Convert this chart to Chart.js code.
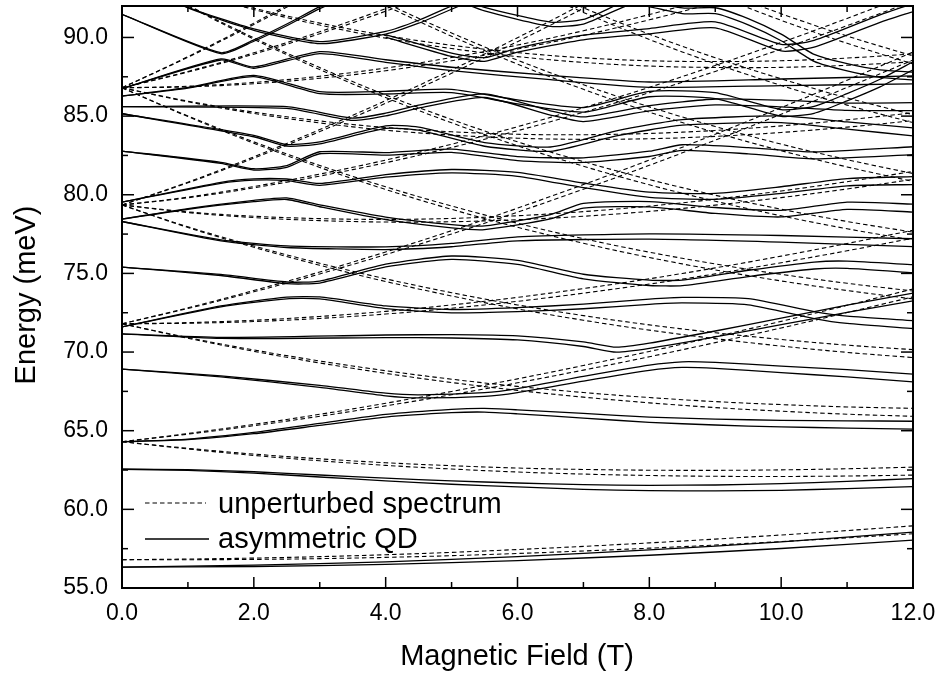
<!DOCTYPE html>
<html>
<head>
<meta charset="utf-8">
<title>Energy spectrum vs magnetic field</title>
<script src="https://cdn.jsdelivr.net/npm/chart.js@4.4.1/dist/chart.umd.min.js"></script>
<style>
  html, body { margin: 0; padding: 0; background: #fff; }
  #wrap { width: 938px; height: 677px; }
</style>
</head>
<body>
<div id="wrap"><canvas id="spectrumChart" width="938" height="677"></canvas></div>
<script>
// Magnetic field grid (T) for the unperturbed levels
const field = [0, 1, 2, 3, 4, 5, 6, 7, 8, 9, 10, 11, 12];
// Half of the spin splitting between paired lines, every 0.5 T (meV)
const spinHalf = [0, 0.011, 0.021, 0.032, 0.042, 0.053, 0.063, 0.074, 0.084, 0.095, 0.105, 0.116, 0.126,
                  0.137, 0.147, 0.158, 0.168, 0.179, 0.189, 0.2, 0.21, 0.221, 0.231, 0.242, 0.252];

// Unperturbed spectrum (dashed), one orbital level per array, at each field value
const d01 = [56.80, 56.82, 56.86, 56.93, 57.03, 57.16, 57.32, 57.50, 57.70, 57.92, 58.16, 58.42, 58.70];
const d02 = [64.30, 63.86, 63.47, 63.15, 62.88, 62.67, 62.50, 62.39, 62.32, 62.29, 62.30, 62.35, 62.43];
const d03 = [64.30, 64.80, 65.36, 65.98, 66.66, 67.39, 68.17, 69.00, 69.87, 70.79, 71.74, 72.74, 73.76];
const d04 = [71.80, 71.85, 71.98, 72.20, 72.50, 72.89, 73.35, 73.89, 74.49, 75.16, 75.89, 76.67, 77.49];
const d05 = [71.80, 70.90, 70.09, 69.37, 68.73, 68.17, 67.69, 67.28, 66.94, 66.66, 66.45, 66.28, 66.17];
const d06 = [71.80, 72.79, 73.87, 75.03, 76.28, 77.61, 79.02, 80.50, 82.04, 83.66, 85.33, 87.05, 88.82];
const d07 = [79.35, 77.94, 76.70, 75.58, 74.57, 73.67, 72.87, 72.17, 71.56, 71.04, 70.59, 70.21, 69.90];
const d08 = [79.35, 78.89, 78.59, 78.42, 78.35, 78.39, 78.54, 78.78, 79.11, 79.53, 80.03, 80.60, 81.23];
const d09 = [79.35, 79.83, 80.48, 81.25, 82.12, 83.11, 84.20, 85.39, 86.66, 88.03, 89.47, 90.98, 92.56];
const d10 = [79.35, 80.78, 82.37, 84.08, 85.90, 87.83, 89.86, 92.00, 94.22, 96.52, 98.91, 101.36, 103.88];
const d11 = [86.80, 84.99, 83.32, 81.80, 80.42, 79.18, 78.06, 77.06, 76.18, 75.41, 74.73, 74.14, 73.63];
const d12 = [86.80, 85.93, 85.21, 84.63, 84.19, 83.90, 83.72, 83.67, 83.73, 83.90, 84.17, 84.53, 84.96];
const d13 = [86.80, 86.88, 87.10, 87.47, 87.97, 88.62, 89.39, 90.28, 91.29, 92.40, 93.61, 94.91, 96.29];
const d14 = [86.80, 87.82, 88.98, 90.30, 91.75, 93.34, 95.05, 96.89, 98.84, 100.90, 103.05, 105.29, 107.62];
const d15 = [86.80, 88.76, 90.87, 93.13, 95.52, 98.06, 100.71, 103.50, 106.39, 109.39, 112.49, 115.68, 118.95];
const d16 = [94.30, 92.03, 89.93, 88.02, 86.26, 84.68, 83.24, 81.96, 80.80, 79.78, 78.87, 78.07, 77.37];
const d17 = [94.30, 92.97, 91.82, 90.85, 90.04, 89.40, 88.91, 88.56, 88.35, 88.28, 88.31, 88.46, 88.70];
const d18 = [101.80, 99.07, 96.55, 94.24, 92.11, 90.18, 88.43, 86.85, 85.42, 84.15, 83.01, 82.00, 81.10];
const d19 = [109.30, 106.12, 103.16, 100.45, 97.96, 95.68, 93.61, 91.74, 90.04, 88.52, 87.16, 85.93, 84.84];
const d20 = [116.80, 113.16, 109.78, 106.67, 103.80, 101.19, 98.80, 96.63, 94.67, 92.90, 91.30, 89.86, 88.57];

// Asymmetric QD (solid), [field T, energy meV]
const s01 = [[0, 56.33], [2, 56.41], [4, 56.58], [6, 56.87], [8, 57.25], [10, 57.72], [12, 58.3]];
const s02 = [[0, 62.55], [1, 62.5], [2, 62.35], [3, 62.12], [4, 61.9], [5, 61.7], [6, 61.55], [7, 61.42], [8, 61.36], [9, 61.36], [10, 61.42], [11, 61.55], [12, 61.7]];
const s03 = [[0, 64.3], [1, 64.45], [2, 64.85], [3, 65.4], [4, 65.95], [5, 66.25], [5.5, 66.3], [6, 66.2], [7, 65.95], [8, 65.7], [9, 65.55], [10, 65.45], [11, 65.4], [12, 65.35]];
const s04 = [[0, 68.92], [1.5, 68.45], [3, 67.82], [4, 67.3], [4.5, 67.18], [5.5, 67.3], [6, 67.55], [7, 68.3], [8, 69.0], [8.5, 69.2], [9, 69.15], [10, 68.9], [11, 68.65], [12, 68.35]];
const s05 = [[0, 71.15], [1.5, 70.9], [4, 71.0], [5, 71.0], [6, 70.9], [7, 70.5], [7.5, 70.15], [8, 70.4], [9, 71.15], [10, 71.95], [11, 72.75], [12, 73.5]];
const s06 = [[0, 71.6], [1.5, 72.9], [2.5, 73.44], [3, 73.44], [4, 72.85], [5, 72.6], [6, 72.7], [7, 72.9], [8, 73.2], [8.5, 73.3], [9.5, 73.2], [10.5, 72.35], [11, 72.05], [12, 71.75]];
const s07 = [[0, 75.4], [1.5, 74.9], [2.5, 74.4], [3, 74.45], [4, 75.5], [5, 76.0], [6, 75.7], [7, 74.8], [8, 74.4], [8.5, 74.4], [9.5, 75.0], [10.5, 75.5], [11, 75.55], [12, 75.3]];
const s08 = [[0, 78.3], [1.5, 77.1], [2.5, 76.7], [4, 76.6], [5, 76.8], [6, 77.2], [8, 77.35], [10, 77.2], [12, 76.95]];
const s09 = [[0, 78.45], [1, 79.1], [2, 79.6], [2.5, 79.75], [3, 79.3], [4, 78.5], [5, 78.0], [5.5, 77.9], [6.5, 78.6], [7, 79.3], [8, 79.4], [9, 79.0], [10, 78.8], [11, 79.3], [12, 79.15]];
const s10 = [[0, 79.53], [1.5, 80.76], [2, 80.97], [2.5, 80.95], [3, 80.66], [4, 81.2], [5, 81.5], [6, 81.3], [7, 80.6], [8, 80.0], [9, 79.9], [10, 80.3], [11, 80.8], [12, 80.9]];
const s11 = [[0, 82.78], [1.5, 82.03], [2, 81.61], [2.5, 81.8], [3, 82.67], [4, 82.6], [5, 82.8], [6, 82.3], [7, 82.2], [8, 82.6], [8.5, 83.0], [9.5, 82.8], [10.5, 82.5], [12, 82.8]];
const s12 = [[0, 85.15], [2, 83.73], [2.5, 83.14], [3, 83.3], [4, 84.3], [4.5, 84.2], [5.5, 83.2], [6.5, 82.9], [7.5, 83.9], [8.5, 84.6], [10, 84.8], [11, 84.4], [12, 84.0]];
const s13 = [[0, 85.6], [2.5, 85.55], [3.5, 84.8], [4, 85.1], [4.5, 85.6], [5.5, 86.3], [6.5, 85.2], [7, 84.8], [8, 85.5], [9, 85.9], [10, 85.8], [11, 85.6], [12, 85.6]];
const s14 = [[0, 86.27], [1, 86.8], [2, 87.55], [3, 86.49], [4, 86.49], [5, 86.6], [6, 85.9], [7, 85.4], [8, 86.4], [9, 86.3], [10, 85.2], [10.5, 85.4], [11, 86.2], [11.5, 87.1], [12, 88.2]];
const s15 = [[0, 86.74], [1.5, 88.6], [2, 88.08], [3, 89.04], [4, 88.5], [5, 88.0], [6.5, 87.45], [8, 87.0], [10, 87.15], [12, 87.3]];
const s16 = [[0, 91.47], [1.5, 89.0], [2, 89.8], [2.5, 90.8], [3, 91.9], [3.5, 92.8]];
const s17 = [[0.5, 93.0], [1, 91.9], [2, 90.5], [3, 89.67], [4, 90.3], [4.5, 91.0], [5, 91.9], [5.5, 92.8]];
const s18 = [[5, 92.6], [5.5, 91.8], [6.5, 90.84], [7, 91.0], [7.5, 91.9], [8, 92.8]];
const s19 = [[4, 90.1], [5, 88.9], [5.5, 88.6], [6, 89.2], [7, 90.0], [8, 90.4], [9, 90.8], [10, 89.35], [10.5, 89.6], [11.5, 91.2], [12, 91.9]];
const s20 = [[7.5, 92.6], [8.5, 91.7], [9, 91.7], [9.5, 91.0], [10, 90.0], [10.5, 88.7], [11, 88.1], [11.5, 87.7], [12, 87.55]];

// Axis decorations
const xMajor = [0, 2, 4, 6, 8, 10, 12];
const xMinor = [1, 3, 5, 7, 9, 11];
const yMajor = [55, 60, 65, 70, 75, 80, 85, 90];
const yMinor = [57.5, 62.5, 67.5, 72.5, 77.5, 82.5, 87.5];

const FONT = "'Liberation Sans', Arial, Helvetica, sans-serif";

const dashedLevels = [d01, d02, d03, d04, d05, d06, d07, d08, d09, d10,
                      d11, d12, d13, d14, d15, d16, d17, d18, d19, d20];
const solidLevels = [s01, s02, s03, s04, s05, s06, s07, s08, s09, s10,
                     s11, s12, s13, s14, s15, s16, s17, s18, s19, s20];

const spectrum = {
    init: function() {
        const ctx = document.getElementById('spectrumChart').getContext('2d');
        new Chart(ctx, {
            type: 'scatter',
            data: { datasets: this.buildDatasets() },
            options: {
                responsive: false,
                devicePixelRatio: 1,
                animation: false,
                events: [],
                layout: { padding: { top: 6, right: 25, left: 0, bottom: 0 } },
                plugins: { legend: { display: false }, tooltip: { enabled: false } },
                scales: {
                    x: {
                        type: 'linear', min: 0, max: 12,
                        grid: { display: false, drawTicks: false },
                        border: { display: false },
                        ticks: {
                            stepSize: 2, maxRotation: 0, padding: 12, color: '#000',
                            font: { family: FONT, size: 23 },
                            callback: v => v.toFixed(1)
                        },
                        afterFit: s => { s.height = 89; s.paddingLeft = 0; s.paddingRight = 0; }
                    },
                    y: {
                        type: 'linear', min: 55, max: 92,
                        grid: { display: false, drawTicks: false },
                        border: { display: false },
                        ticks: {
                            stepSize: 5, includeBounds: false, padding: 14, color: '#000',
                            font: { family: FONT, size: 23 },
                            callback: v => v.toFixed(1)
                        },
                        afterFit: s => { s.width = 122; s.paddingTop = 0; s.paddingBottom = 0; }
                    }
                }
            },
            plugins: [frameAndText]
        });
    },

    // each level is drawn as its two spin partners
    buildDatasets: function() {
        const sets = [];
        dashedLevels.forEach(level => {
            [1, -1].forEach(sign => {
                sets.push({
                    data: level.map((e, i) => ({ x: field[i], y: e + sign * spinHalf[i * 2] })),
                    borderColor: '#000',
                    borderWidth: 1.1,
                    borderDash: [4.5, 3],
                    pointRadius: 0,
                    showLine: true,
                    tension: 0.35
                });
            });
        });
        solidLevels.forEach(level => {
            [1, -1].forEach(sign => {
                sets.push({
                    data: level.map(p => ({ x: p[0], y: p[1] + sign * spinHalf[p[0] * 2] })),
                    borderColor: '#000',
                    borderWidth: 1.3,
                    pointRadius: 0,
                    showLine: true,
                    tension: 0.2
                });
            });
        });
        return sets;
    }
};

// frame, inward ticks, legend and axis titles
const frameAndText = {
    id: 'frameAndText',
    afterDraw(chart) {
        const { ctx, chartArea: a, scales: { x, y } } = chart;
        ctx.save();
        ctx.strokeStyle = '#000';
        ctx.fillStyle = '#000';

        ctx.lineWidth = 1.5;
        const tick = (x1, y1, x2, y2) => { ctx.beginPath(); ctx.moveTo(x1, y1); ctx.lineTo(x2, y2); ctx.stroke(); };
        xMajor.forEach(v => { const px = x.getPixelForValue(v); tick(px, a.bottom, px, a.bottom - 11); tick(px, a.top, px, a.top + 11); });
        xMinor.forEach(v => { const px = x.getPixelForValue(v); tick(px, a.bottom, px, a.bottom - 6); tick(px, a.top, px, a.top + 6); });
        yMajor.forEach(v => { const py = y.getPixelForValue(v); tick(a.left, py, a.left + 12, py); tick(a.right, py, a.right - 12, py); });
        yMinor.forEach(v => { const py = y.getPixelForValue(v); tick(a.left, py, a.left + 6, py); tick(a.right, py, a.right - 6, py); });

        ctx.lineWidth = 2;
        ctx.strokeRect(a.left, a.top, a.right - a.left, a.bottom - a.top);

        // Legend
        ctx.lineWidth = 1.1;
        ctx.setLineDash([4.5, 3]);
        tick(145, 503, 206, 503);
        ctx.setLineDash([]);
        ctx.lineWidth = 1.3;
        tick(145, 539, 209, 539);
        ctx.font = '29px ' + FONT;
        ctx.textBaseline = 'alphabetic';
        ctx.textAlign = 'left';
        ctx.fillText('unperturbed spectrum', 218, 513);
        ctx.fillText('asymmetric QD', 218, 548);

        // Axis titles
        ctx.textAlign = 'center';
        ctx.fillText('Magnetic Field (T)', 517, 665);
        ctx.translate(35, 295);
        ctx.rotate(-Math.PI / 2);
        ctx.fillText('Energy (meV)', 0, 0);
        ctx.restore();
    }
};

document.addEventListener('DOMContentLoaded', () => spectrum.init());
</script>
</body>
</html>
